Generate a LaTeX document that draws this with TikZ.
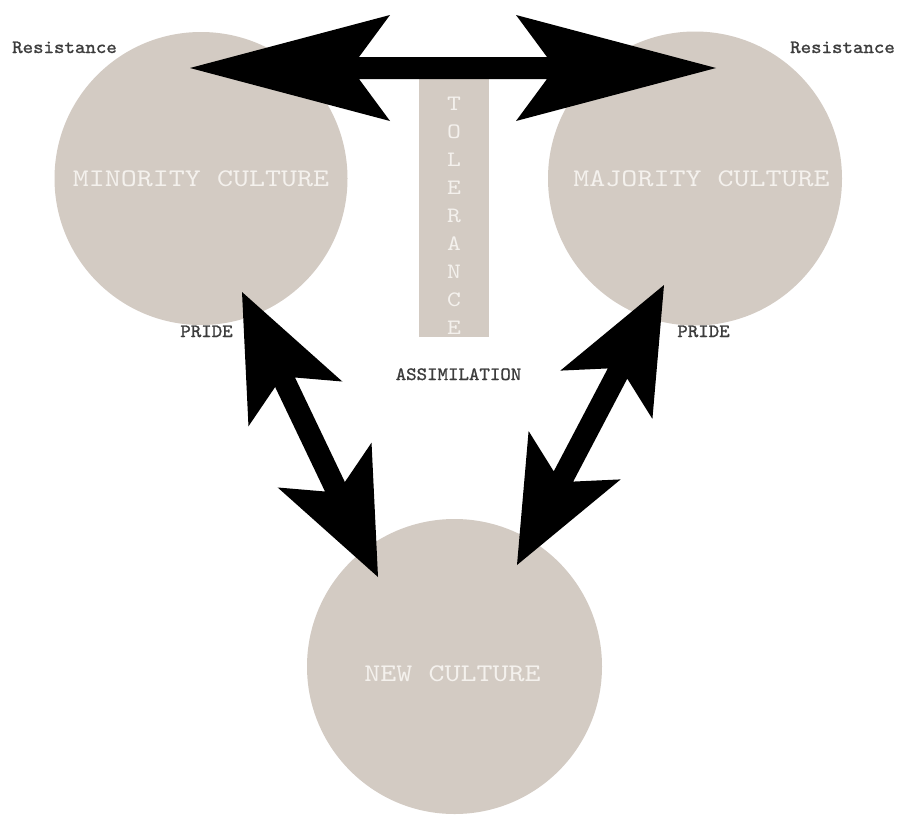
\documentclass[tikz,border=0pt]{standalone}
\usepackage{fontspec}
\newfontfamily\slabfont[FakeStretch=1.2]{lmmono10-regular.otf}
\newfontfamily\smallslab[FakeStretch=1.06,FakeBold=1.2]{lmmono10-regular.otf}
\usetikzlibrary{calc}
\definecolor{circ}{HTML}{D3CBC3}
\definecolor{lbl}{HTML}{F4F1ED}
\definecolor{smallc}{HTML}{3C3C3C}
\tikzset{
  culture/.style={circle, fill=circ, draw=none, minimum size=#1, inner sep=0pt},
  bigtext/.style={text=lbl, font=\slabfont\fontsize{25.4}{25.4}\selectfont, anchor=base, inner sep=0pt},
  smalltext/.style={text=smallc, font=\smallslab\fontsize{18.8}{18.8}\selectfont, anchor=base, inner sep=0pt},
  tolbox/.style={rectangle, fill=circ, draw=none, minimum width=70pt, minimum height=259pt, inner sep=0pt},
  fatarrow/.style={fill=black, draw=none}
}
% #1 tip A, #2 tip B, #3 head length, #4 head half width, #5 shaft half width, #6 notch distance
\newcommand\fatdbl[6]{%
  \fill[fatarrow] (#1)
    -- ($(#1)!#3!(#2)!#4!90:(#2)$)
    -- ($(#1)!#6!(#2)!#5!90:(#2)$)
    -- ($(#2)!#6!(#1)!#5!-90:(#1)$)
    -- ($(#2)!#3!(#1)!#4!-90:(#1)$)
    -- (#2)
    -- ($(#2)!#3!(#1)!#4!90:(#1)$)
    -- ($(#2)!#6!(#1)!#5!90:(#1)$)
    -- ($(#1)!#6!(#2)!#5!-90:(#2)$)
    -- ($(#1)!#3!(#2)!#4!-90:(#2)$)
    -- cycle;
}
\begin{document}
\begin{tikzpicture}[x=1pt,y=-1pt]
  \useasboundingbox (0,0) rectangle (899,814);
  \fill[white] (0,0) rectangle (899,814);

  % circles
  \node[culture=293pt] (minority) at (201,178.5) {};
  \node[culture=294pt] (majority) at (695,178.5) {};
  \node[culture=295pt] (newc) at (454.5,666.5) {};

  % tolerance bar
  \node[tolbox] (tol) at (454,207.5) {};
  \node[text=lbl, font=\slabfont\fontsize{22}{28}\selectfont, align=center, inner sep=0pt] (toltext) at (454,215.3)
    {T\\O\\L\\E\\R\\A\\N\\C\\E};

  % arrow tips
  \coordinate (topL) at (190,68);
  \coordinate (topR) at (716,68);
  \coordinate (lA) at (242,292);
  \coordinate (lB) at (378,577);
  \coordinate (rA) at (664,285);
  \coordinate (rB) at (517,565);

  \fatdbl{topL}{topR}{200pt}{53pt}{11pt}{169pt}
  \fatdbl{lA}{lB}{124pt}{52pt}{11pt}{100pt}
  \fatdbl{rA}{rB}{124pt}{52pt}{11pt}{100pt}

  % labels
  \node[bigtext] (minlbl) at (201,186) {MINORITY CULTURE};
  \node[bigtext] (majlbl) at (701.5,186) {MAJORITY CULTURE};
  \node[bigtext] (newlbl) at (452.5,681.5) {NEW CULTURE};

  \node[smalltext] (resL) at (64.5,53) {Resistance};
  \node[smalltext] (resR) at (842.5,53) {Resistance};
  \node[smalltext] (prideL) at (206.5,337) {PRIDE};
  \node[smalltext] (prideR) at (703.5,337) {PRIDE};
  \node[smalltext] (assim) at (458.5,380) {ASSIMILATION};
\end{tikzpicture}
\end{document}
